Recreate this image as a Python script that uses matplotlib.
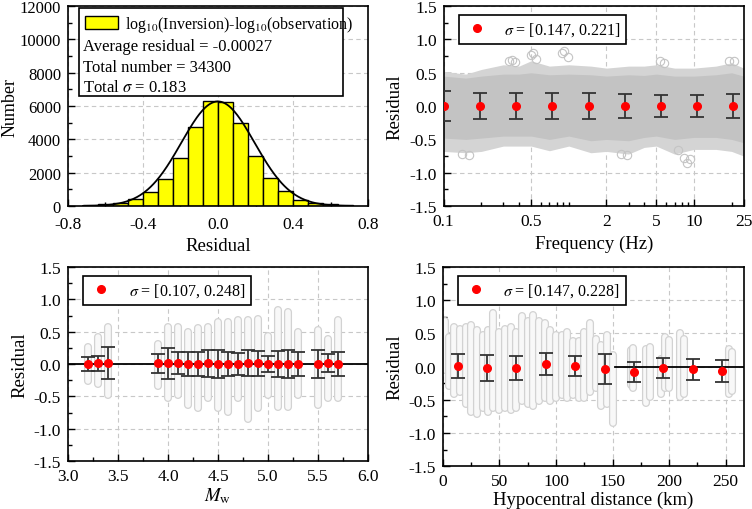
import numpy as np
import matplotlib
matplotlib.use("Agg")
import matplotlib.pyplot as plt
from matplotlib.ticker import MultipleLocator, FixedLocator, FixedFormatter, LogLocator, NullFormatter
from matplotlib.patches import Patch, Rectangle
from matplotlib.lines import Line2D

plt.rcParams['font.family'] = ['Liberation Serif', 'DejaVu Serif']
plt.rcParams['mathtext.fontset'] = 'stix'
plt.rcParams['font.size'] = 12

# ---- histogram of residuals ----
bin_left = [-0.72, -0.64, -0.56, -0.48, -0.40, -0.32, -0.24, -0.16, -0.08,
            0.00, 0.08, 0.16, 0.24, 0.32, 0.40, 0.48, 0.56, 0.64]
bin_count = [60, 100, 200, 420, 860, 1620, 2860, 4740, 6300,
             6240, 5000, 3020, 1660, 900, 380, 180, 100, 50]
bin_width = 0.08
fit_amp, fit_mean, fit_sigma = 6280, -0.00027, 0.195

# ---- frequency panel ----
freq_env = [0.1, 0.15, 0.2, 0.3, 0.4, 0.5, 0.7, 1.0, 1.5, 2.0, 3.0, 4.0, 5.0, 7.0, 10.0, 15.0, 20.0, 25.0]
freq_hi_out = [0.52, 0.48, 0.55, 0.62, 0.60, 0.68, 0.60, 0.62, 0.60, 0.57, 0.60, 0.60, 0.62, 0.57, 0.57, 0.60, 0.65, 0.57]
freq_lo_out = [-0.68, -0.70, -0.68, -0.60, -0.60, -0.60, -0.67, -0.60, -0.70, -0.68, -0.72, -0.62, -0.60, -0.72, -0.65, -0.65, -0.68, -0.75]
freq_hi_in = [0.45, 0.42, 0.45, 0.48, 0.48, 0.50, 0.47, 0.48, 0.47, 0.45, 0.47, 0.46, 0.48, 0.45, 0.45, 0.47, 0.50, 0.45]
freq_lo_in = [-0.48, -0.50, -0.48, -0.45, -0.45, -0.45, -0.50, -0.45, -0.52, -0.50, -0.52, -0.47, -0.45, -0.50, -0.47, -0.47, -0.50, -0.55]
freq_out_f = [0.33, 0.35, 0.37, 0.5, 0.52, 0.55, 0.88, 0.92, 0.98, 5.4, 5.8, 19.0, 21.0, 7.5, 8.3, 8.8, 9.3, 0.14, 0.16, 2.6, 2.9]
freq_out_r = [0.67, 0.69, 0.66, 0.76, 0.80, 0.70, 0.80, 0.82, 0.74, 0.68, 0.64, 0.67, 0.68, -0.66, -0.78, -0.85, -0.80, -0.72, -0.73, -0.72, -0.74]
freq_pts = [0.1, 0.195, 0.38, 0.74, 1.44, 2.8, 5.46, 10.6, 20.7]
freq_mean = [0.0, 0.0, 0.0, 0.0, 0.0, 0.0, 0.0, 0.0, 0.0]
freq_err = [0.221, 0.195, 0.2, 0.19, 0.19, 0.18, 0.17, 0.16, 0.18]

# ---- magnitude panel ----
mw = [3.2, 3.3, 3.4, 3.9, 4.0, 4.1, 4.2, 4.3, 4.4, 4.5, 4.6, 4.7, 4.8, 4.9, 5.0, 5.1, 5.2, 5.3, 5.5, 5.6, 5.7]
mw_hi = [0.27, 0.42, 0.58, 0.31, 0.58, 0.58, 0.50, 0.56, 0.58, 0.65, 0.65, 0.68, 0.68, 0.70, 0.43, 0.83, 0.81, 0.50, 0.53, 0.38, 0.68]
mw_lo = [-0.27, -0.31, -0.48, -0.34, -0.52, -0.48, -0.63, -0.68, -0.53, -0.68, -0.74, -0.52, -0.85, -0.68, -0.48, -0.66, -0.66, -0.48, -0.63, -0.53, -0.53]
mw_mean = [0.0, 0.01, 0.01, 0.01, 0.01, 0.01, 0.0, 0.0, 0.01, 0.0, 0.0, 0.0, 0.01, 0.01, 0.0, 0.0, 0.0, 0.0, 0.0, 0.01, 0.0]
mw_err = [0.107, 0.12, 0.248, 0.15, 0.245, 0.17, 0.18, 0.19, 0.21, 0.21, 0.19, 0.17, 0.20, 0.19, 0.13, 0.20, 0.21, 0.19, 0.21, 0.14, 0.18]

# ---- distance panel ----
dist = [2, 5, 10, 15, 20, 25, 30, 35, 40, 44, 50, 55, 60, 65, 70, 75, 80, 85, 90, 95, 100,
        105, 110, 115, 120, 125, 130, 135, 140, 145, 150, 166, 168, 180, 183, 193, 196, 200,
        210, 213, 253, 256]
dist_hi = [0.68, 0.45, 0.60, 0.57, 0.60, 0.62, 0.55, 0.47, 0.55, 0.80, 0.52, 0.57, 0.60, 0.52, 0.76,
           0.68, 0.78, 0.68, 0.65, 0.55, 0.47, 0.47, 0.52, 0.38, 0.38, 0.52, 0.65, 0.42, 0.33, 0.47,
           0.17, 0.25, 0.28, 0.27, 0.30, 0.12, 0.45, 0.40, 0.50, 0.42, 0.27, 0.22]
dist_lo = [-0.05, -0.30, -0.42, -0.38, -0.57, -0.68, -0.72, -0.62, -0.68, -0.62, -0.66, -0.62, -0.66,
           -0.62, -0.52, -0.57, -0.60, -0.52, -0.48, -0.52, -0.48, -0.43, -0.48, -0.43, -0.48, -0.48,
           -0.38, -0.33, -0.60, -0.57, -0.85, -0.28, -0.32, -0.55, -0.46, -0.42, -0.32, -0.32, -0.46,
           -0.42, -0.42, -0.37]
dist_pts = [13, 39, 65, 91, 117, 143, 169, 195, 221, 247]
dist_mean = [0.01, -0.02, -0.02, 0.04, 0.01, -0.03, -0.08, -0.02, -0.04, -0.06]
dist_err = [0.185, 0.19, 0.185, 0.165, 0.155, 0.225, 0.153, 0.15, 0.16, 0.165]
dist_zero_line = [152, 266]

grey_edge = '#d2d2d2'
grey_fill = '#f8f8f8'


def style_axes(ax):
    for s in ax.spines.values():
        s.set_linewidth(1.2)
    ax.tick_params(which='both', direction='in', top=False, right=False, labelsize=12.5, pad=5)
    ax.tick_params(which='major', length=5, width=1)
    ax.tick_params(which='minor', length=3, width=1)
    ax.grid(True, which='major', ls=(0, (4, 3)), color='#c8c8c8', lw=0.8)
    ax.set_axisbelow(True)


def columns(ax, xs, lo, hi):
    for x, a, b in zip(xs, lo, hi):
        ax.vlines(x, a, b, color=grey_edge, lw=5.8, capstyle='round', zorder=1)
        ax.vlines(x, a, b, color=grey_fill, lw=4.0, capstyle='round', zorder=1)


def resid_axes(ax, x, mean, err, label):
    ax.errorbar(x, mean, yerr=err, fmt='none', ecolor='#333333', elinewidth=1.3,
                capsize=5, capthick=1.3, zorder=4)
    ax.plot(x, mean, 'o', color='red', ms=5.5, zorder=5)
    ax.set_ylim(-1.5, 1.5)
    ax.yaxis.set_major_locator(MultipleLocator(0.5))
    ax.yaxis.set_minor_locator(MultipleLocator(0.25))
    ax.yaxis.set_major_formatter(matplotlib.ticker.FormatStrFormatter('%.1f'))
    ax.set_ylabel('Residual', fontsize=13.5)
    h = Line2D([], [], marker='o', ls='none', color='red', ms=5.5)
    leg = ax.legend([h], [label], loc='upper left', bbox_to_anchor=(0.05, 0.955),
                    borderaxespad=0, fancybox=False, edgecolor='black', framealpha=1,
                    handlelength=1.6, handletextpad=0.9, borderpad=0.35, fontsize=11.5)
    leg.get_frame().set_linewidth(1.2)
    style_axes(ax)


fig = plt.figure(figsize=(7.52, 5.10), dpi=100)
ax1 = fig.add_axes([0.0904, 0.594, 0.399, 0.392])
ax2 = fig.add_axes([0.590, 0.594, 0.399, 0.392])
ax3 = fig.add_axes([0.0904, 0.094, 0.399, 0.3805])
ax4 = fig.add_axes([0.589, 0.084, 0.400, 0.3905])

# histogram
ax1.bar(bin_left, bin_count, width=bin_width, align='edge', color='#ffff00',
        edgecolor='black', lw=1, zorder=2)
xx = np.linspace(-0.72, 0.72, 300)
ax1.plot(xx, fit_amp * np.exp(-(xx - fit_mean) ** 2 / (2 * fit_sigma ** 2)), color='black', lw=1.3, zorder=3)
ax1.set_xlim(-0.8, 0.8)
ax1.set_ylim(0, 12000)
ax1.xaxis.set_major_locator(MultipleLocator(0.4))
ax1.xaxis.set_minor_locator(MultipleLocator(0.2))
ax1.yaxis.set_major_locator(MultipleLocator(2000))
ax1.yaxis.set_minor_locator(MultipleLocator(1000))
ax1.xaxis.set_major_formatter(matplotlib.ticker.FormatStrFormatter('%.1f'))
ax1.set_xlabel('Residual', fontsize=13.5)
ax1.set_ylabel('Number', fontsize=13, labelpad=1)
style_axes(ax1)
ax1.tick_params(axis='x', pad=7)
ax1.tick_params(axis='y', labelsize=12)
ax1.add_patch(Rectangle((0.037, 0.55), 0.88, 0.44, transform=ax1.transAxes, facecolor='white',
                        edgecolor='black', lw=1.2, zorder=6))
leg = ax1.legend([Patch(facecolor='#ffff00', edgecolor='black')],
                 ['log$_{10}$(Inversion)-log$_{10}$(observation)'],
                 loc='upper left', bbox_to_anchor=(0.037, 0.99), borderaxespad=0, frameon=False,
                 handlelength=2.1, handleheight=0.9, handletextpad=0.4, borderpad=0.35, fontsize=11.5)
leg.set_zorder(7)
for i, s in enumerate(['Average residual = -0.00027', 'Total number = 34300', 'Total $\\sigma$ = 0.183']):
    ax1.text(0.05, 0.80 - i * 0.102, s, transform=ax1.transAxes, fontsize=12, va='center', zorder=8)

# frequency
ax2.fill_between(freq_env, freq_lo_out, freq_hi_out, color='#d4d4d4', lw=0, zorder=1)
ax2.fill_between(freq_env, freq_lo_in, freq_hi_in, color='#c3c3c3', lw=0, zorder=1)
ax2.plot(freq_out_f, freq_out_r, 'o', mfc='none', mec='#c4c4c4', ms=6, mew=0.8, zorder=1)
ax2.set_xscale('log')
ax2.set_xlim(0.1, 25)
ax2.xaxis.set_major_locator(FixedLocator([0.1, 0.5, 2, 5, 10, 25]))
ax2.xaxis.set_major_formatter(FixedFormatter(['0.1', '0.5', '2', '5', '10', '25']))
ax2.xaxis.set_minor_locator(LogLocator(subs=np.arange(1, 10), numticks=20))
ax2.xaxis.set_minor_formatter(NullFormatter())
ax2.set_xlabel('Frequency (Hz)', fontsize=13.5)
resid_axes(ax2, freq_pts, freq_mean, freq_err, '$\\sigma$ = [0.147, 0.221]')

# magnitude
columns(ax3, mw, mw_lo, mw_hi)
ax3.axhline(0, color='black', lw=1.3, zorder=3)
ax3.set_xlim(3.0, 6.0)
ax3.xaxis.set_major_locator(MultipleLocator(0.5))
ax3.xaxis.set_minor_locator(MultipleLocator(0.25))
ax3.xaxis.set_major_formatter(matplotlib.ticker.FormatStrFormatter('%.1f'))
ax3.set_xlabel('$M_\\mathrm{w}$', fontsize=13.5, labelpad=1)
resid_axes(ax3, mw, mw_mean, mw_err, '$\\sigma$ = [0.107, 0.248]')

# distance
columns(ax4, dist, dist_lo, dist_hi)
ax4.plot(dist_zero_line, [0, 0], color='black', lw=1.3, zorder=3)
ax4.set_xlim(0, 266)
ax4.xaxis.set_major_locator(MultipleLocator(50))
ax4.xaxis.set_minor_locator(MultipleLocator(25))
ax4.set_xlabel('Hypocentral distance (km)', fontsize=13.5, labelpad=1)
resid_axes(ax4, dist_pts, dist_mean, dist_err, '$\\sigma$ = [0.147, 0.228]')

fig.savefig('out.png', dpi=100)
